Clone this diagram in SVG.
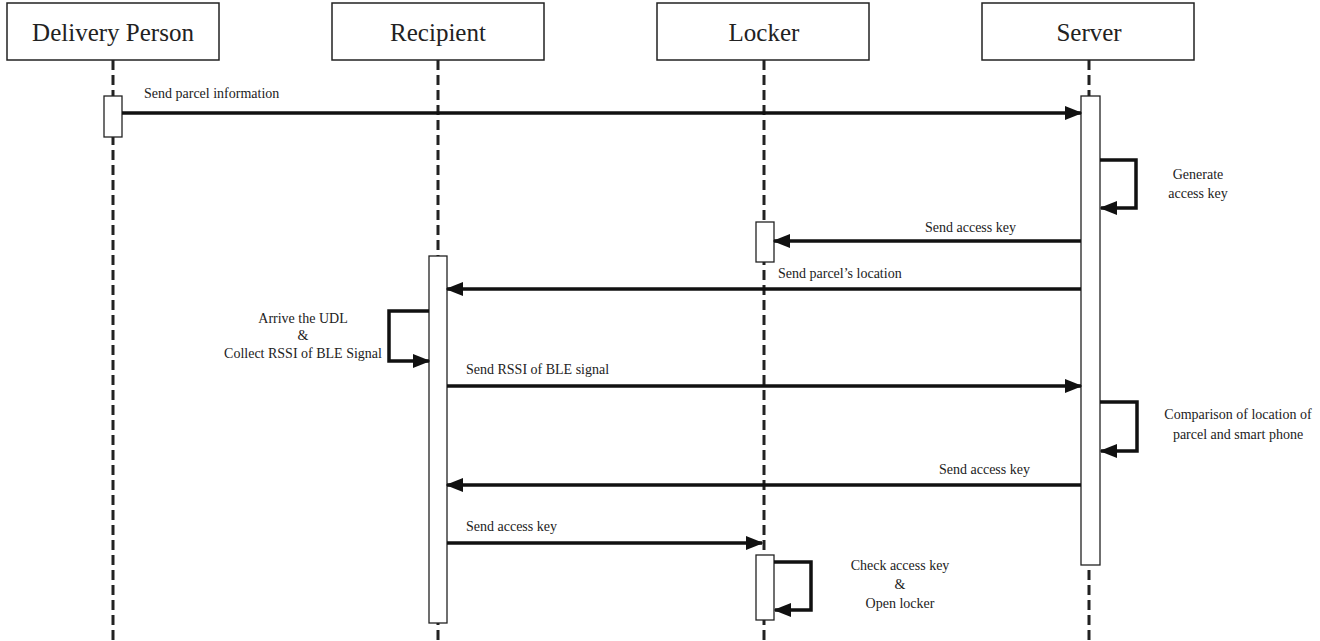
<svg xmlns="http://www.w3.org/2000/svg" width="1320" height="641" viewBox="0 0 1320 641">
<style>
.box{fill:#fff;stroke:#222;stroke-width:1.5}
.title{font-family:'Liberation Serif','DejaVu Serif','Times New Roman',serif;font-size:25px;fill:#222;text-anchor:middle}
.life{stroke:#222;stroke-width:3;stroke-dasharray:10,5;fill:none}
.act{fill:#fff;stroke:#222;stroke-width:1.3}
.msg{stroke:#111;stroke-width:3.5;fill:none}
.lbl{font-family:'Liberation Serif','DejaVu Serif','Times New Roman',serif;font-size:14px;fill:#222}
.c{text-anchor:middle}
</style>
<defs>
<marker id="ah" markerWidth="5" markerHeight="4" refX="4.6" refY="2" orient="auto" markerUnits="strokeWidth">
<path d="M0,0 L5,2 L0,4 Z" fill="#111"/>
</marker>
</defs>
<rect width="1320" height="641" fill="#fff"/>
<g id="delivery">
<rect class="box" x="7" y="3" width="212" height="57"/>
<text class="title" x="113" y="41">Delivery Person</text>
<line class="life" x1="113" y1="60" x2="113" y2="641"/>
<rect class="act" x="104" y="96" width="18" height="41"/>
</g>
<g id="recipient">
<rect class="box" x="332" y="3" width="212" height="57"/>
<text class="title" x="438" y="41">Recipient</text>
<line class="life" x1="438" y1="60" x2="438" y2="641"/>
<rect class="act" x="429" y="256" width="18" height="367"/>
</g>
<g id="locker">
<rect class="box" x="657" y="3" width="212" height="57"/>
<text class="title" x="764" y="41">Locker</text>
<line class="life" x1="764" y1="60" x2="764" y2="641"/>
<rect class="act" x="756" y="222" width="18" height="40"/>
<rect class="act" x="756" y="555" width="18" height="65"/>
</g>
<g id="server">
<rect class="box" x="982" y="3" width="212" height="57"/>
<text class="title" x="1089" y="41">Server</text>
<line class="life" x1="1089" y1="60" x2="1089" y2="641"/>
<rect class="act" x="1081" y="96" width="19" height="469"/>
</g>
<g id="connectors">
<line class="msg" x1="122" y1="113" x2="1081" y2="113" marker-end="url(#ah)"/>
<polyline class="msg" points="1100,160 1136,160 1136,208 1101,208" marker-end="url(#ah)"/>
<line class="msg" x1="1081" y1="241" x2="774" y2="241" marker-end="url(#ah)"/>
<line class="msg" x1="1081" y1="289" x2="447" y2="289" marker-end="url(#ah)"/>
<polyline class="msg" points="429,311 389,311 389,361 429,361" marker-end="url(#ah)"/>
<line class="msg" x1="447" y1="386" x2="1081" y2="386" marker-end="url(#ah)"/>
<polyline class="msg" points="1100,402 1137,402 1137,451 1101,451" marker-end="url(#ah)"/>
<line class="msg" x1="1081" y1="485" x2="447" y2="485" marker-end="url(#ah)"/>
<line class="msg" x1="447" y1="543" x2="762" y2="543" marker-end="url(#ah)"/>
<polyline class="msg" points="774,562 811,562 811,610 775,610" marker-end="url(#ah)"/>
</g>
<g id="labels">
<text class="lbl" x="144" y="98">Send parcel information</text>
<text class="lbl c" x="1198" y="179">Generate</text>
<text class="lbl c" x="1198" y="198">access key</text>
<text class="lbl" x="925" y="232">Send access key</text>
<text class="lbl" x="778" y="278">Send parcel’s location</text>
<text class="lbl c" x="303" y="323">Arrive the UDL</text>
<text class="lbl c" x="303" y="340">&amp;</text>
<text class="lbl c" x="303" y="358">Collect RSSI of BLE Signal</text>
<text class="lbl" x="466" y="374">Send RSSI of BLE signal</text>
<text class="lbl c" x="1238" y="419">Comparison of location of</text>
<text class="lbl c" x="1238" y="439">parcel and smart phone</text>
<text class="lbl" x="939" y="474">Send access key</text>
<text class="lbl" x="466" y="531">Send access key</text>
<text class="lbl c" x="900" y="570">Check access key</text>
<text class="lbl c" x="900" y="589">&amp;</text>
<text class="lbl c" x="900" y="608">Open locker</text>
</g>
</svg>
